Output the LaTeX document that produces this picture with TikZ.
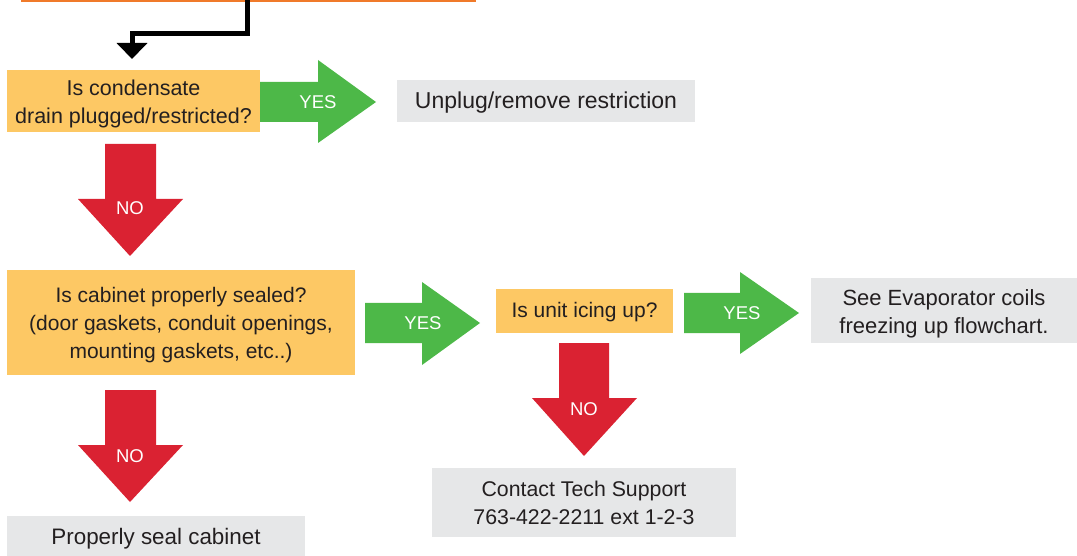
\documentclass[tikz,border=0pt]{standalone}
\usepackage{fontspec}
\setmainfont{Liberation Sans}
\usetikzlibrary{arrows.meta}
\definecolor{qorange}{HTML}{FDC864}
\definecolor{lineorange}{HTML}{F07A2A}
\definecolor{agreen}{HTML}{4DB848}
\definecolor{ared}{HTML}{DA2232}
\definecolor{bgray}{HTML}{E6E7E8}
\definecolor{txt}{HTML}{231F20}
\tikzset{
  shapebox/.style={inner sep=0pt, outer sep=0pt},
  qbox/.style={shapebox, fill=qorange},
  abox/.style={shapebox, fill=bgray},
  btext/.style={inner sep=0pt, align=center, text=txt,
    font=\fontsize{#1}{28}\selectfont},
  lab/.style={text=white, inner sep=0pt, font=\fontsize{18.5}{20}\selectfont},
  yesarrow/.style={fill=agreen},
  noarrow/.style={fill=ared},
}
\begin{document}
\begin{tikzpicture}[x=1pt,y=-1pt]
\useasboundingbox (0,0) rectangle (1077,556);
% top orange line (bottom edge of a box above)
\fill[lineorange] (21,0) rectangle (476,2.2);
\coordinate (top) at (247,0);
\coordinate (in1) at (132,59);
\draw[line width=5pt, line join=miter, -{Triangle[width=30pt,length=16pt]}]
  (top) -- (247,34) -- (132,34) -- (in1);

% question / answer boxes
\node[qbox, minimum width=253pt, minimum height=62pt] (q1) at (133.5,101) {};
\node[btext=21.5] (q1t) at ([yshift=-3pt]q1.center) {Is condensate\\drain plugged/restricted?};
\node[abox, minimum width=298pt, minimum height=42pt] (a1) at (546,101) {};
\node[btext=23] (a1t) at ([yshift=-2pt]a1.center) {Unplug/remove restriction};
\node[qbox, minimum width=348pt, minimum height=105pt] (q2) at (181,322.5) {};
\node[btext=21] (q2t) at ([yshift=-3pt]q2.center) {Is cabinet properly sealed?\\(door gaskets, conduit openings,\\mounting gaskets, etc..)};
\node[qbox, minimum width=177pt, minimum height=44pt] (q3) at (584.5,311) {};
\node[btext=21] (q3t) at ([yshift=-1pt]q3.center) {Is unit icing up?};
\node[abox, minimum width=266pt, minimum height=65pt] (a3) at (944,310.5) {};
\node[btext=22] (a3t) at ([yshift=-3.5pt]a3.center) {See Evaporator coils\\freezing up flowchart.};
\node[abox, minimum width=304pt, minimum height=69pt] (a4) at (584,502.5) {};
\node[btext=21.3] (a4t) at (a4.center) {Contact Tech Support\\763-422-2211 ext 1-2-3};
\node[abox, minimum width=298pt, minimum height=42pt] (a2) at (156,537) {};
\node[btext=22.4] (a2t) at ([yshift=-2pt]a2.center) {Properly seal cabinet};

% green YES arrows
\fill[yesarrow] (260,82) -- (318,82) -- (318,60) -- (376,102) -- (318,143) -- (318,122) -- (260,122) -- cycle;
\node[lab] (y1) at (318,102) {YES};
\fill[yesarrow] (365,303) -- (422,303) -- (422,282) -- (480,323) -- (422,365) -- (422,343) -- (365,343) -- cycle;
\node[lab] (y2) at (423,323) {YES};
\fill[yesarrow] (684,293) -- (740,293) -- (740,272) -- (799,313) -- (740,354) -- (740,333) -- (684,333) -- cycle;
\node[lab] (y3) at (742,313) {YES};

% red NO arrows
\fill[noarrow] (105,144) -- (156,144) -- (156,199) -- (183,199) -- (130,256) -- (78,199) -- (105,199) -- cycle;
\node[lab] (n1) at (130,208) {NO};
\fill[noarrow] (105,390) -- (156,390) -- (156,445) -- (183,445) -- (130,502) -- (78,445) -- (105,445) -- cycle;
\node[lab] (n2) at (130,456) {NO};
\fill[noarrow] (559,343) -- (609,343) -- (609,398) -- (637,398) -- (584,456) -- (532,398) -- (559,398) -- cycle;
\node[lab] (n3) at (584,409) {NO};
\end{tikzpicture}
\end{document}
